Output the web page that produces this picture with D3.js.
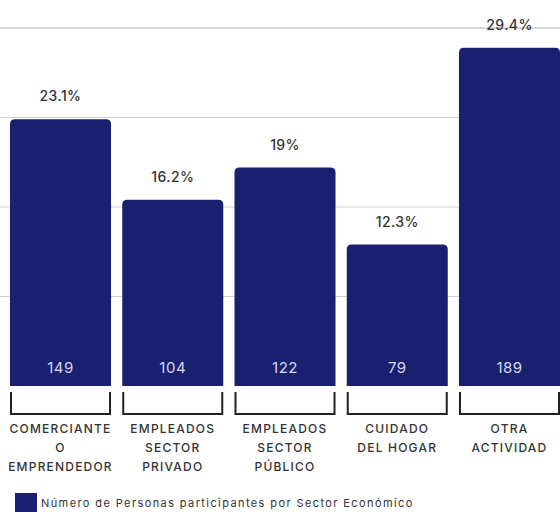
<!DOCTYPE html>
<html><head><meta charset="utf-8">
<script src="https://cdn.jsdelivr.net/npm/d3@7"></script>
<style>body{margin:0;background:#fff;} text{font-family:"Inter","Lato",sans-serif;}</style>
</head><body>
<svg id="chart" width="560" height="512"></svg>
<script>
const categories = [["COMERCIANTE","O","EMPRENDEDOR"],["EMPLEADOS","SECTOR","PRIVADO"],["EMPLEADOS","SECTOR","PÚBLICO"],["CUIDADO","DEL HOGAR"],["OTRA","ACTIVIDAD"]];
const counts = [149, 104, 122, 79, 189];
const percents = ["23.1%", "16.2%", "19%", "12.3%", "29.4%"];
const gridTicks = [50, 100, 150, 200];
const legendLabel = "Número de Personas participantes por Sector Económico";

const svg = d3.select("#chart");
const x = d3.scaleBand().domain(d3.range(counts.length)).range([10, 560]).paddingInner(0.1).paddingOuter(0);
const y = d3.scaleLinear().domain([0, 200]).range([386, 28]);
const navy = "#18206f";

// gridlines
svg.append("g").selectAll("line").data(gridTicks).join("line")
  .attr("x1", 0).attr("x2", 560)
  .attr("y1", d => y(d)).attr("y2", d => y(d))
  .attr("stroke", d => d === 200 ? "#b0b0b0" : "#cfcfcf")
  .attr("stroke-width", 1.2);

// bars with rounded tops
const r = 5;
svg.append("g").selectAll("path").data(counts).join("path")
  .attr("fill", navy)
  .attr("d", (d, i) => {
    const x0 = x(i), w = x.bandwidth(), y0 = y(d), yb = y(0);
    return `M${x0},${yb}V${y0 + r}Q${x0},${y0} ${x0 + r},${y0}H${x0 + w - r}Q${x0 + w},${y0} ${x0 + w},${y0 + r}V${yb}Z`;
  });

// percent labels
svg.append("g").selectAll("text").data(percents).join("text")
  .attr("x", (d, i) => x(i) + x.bandwidth() / 2)
  .attr("y", (d, i) => Math.max(y(counts[i]) - 18, 24))
  .attr("text-anchor", "middle")
  .attr("font-size", 14).attr("font-weight", 500).attr("fill", "#333")
  .attr("letter-spacing", 0.4)
  .text(d => d);

// counts inside bars
svg.append("g").selectAll("text").data(counts).join("text")
  .attr("x", (d, i) => x(i) + x.bandwidth() / 2)
  .attr("y", 373)
  .attr("text-anchor", "middle")
  .attr("font-size", 15).attr("fill", "#d6d9f0")
  .attr("letter-spacing", 0.5)
  .text(d => d);

// brackets
svg.append("g").selectAll("path").data(counts).join("path")
  .attr("fill", "none").attr("stroke", "#222").attr("stroke-width", 2)
  .attr("d", (d, i) => `M${x(i) + 1},392V414H${x(i) + x.bandwidth() - 1}V392`);

// category labels
const lab = svg.append("g").selectAll("text").data(categories).join("text")
  .attr("text-anchor", "middle")
  .attr("font-size", 12).attr("font-weight", 500).attr("fill", "#333")
  .attr("letter-spacing", 1.2);
lab.each(function(lines, i) {
  d3.select(this).selectAll("tspan").data(lines).join("tspan")
    .attr("x", x(i) + x.bandwidth() / 2)
    .attr("y", (l, j) => 433 + j * 19)
    .text(l => l);
});

// legend
svg.append("rect").attr("x", 15).attr("y", 493).attr("width", 22).attr("height", 19).attr("fill", navy);
svg.append("text").attr("x", 41).attr("y", 507).attr("font-size", 11).attr("fill", "#333")
  .attr("letter-spacing", 1.4).text(legendLabel);
</script>
</body></html>
